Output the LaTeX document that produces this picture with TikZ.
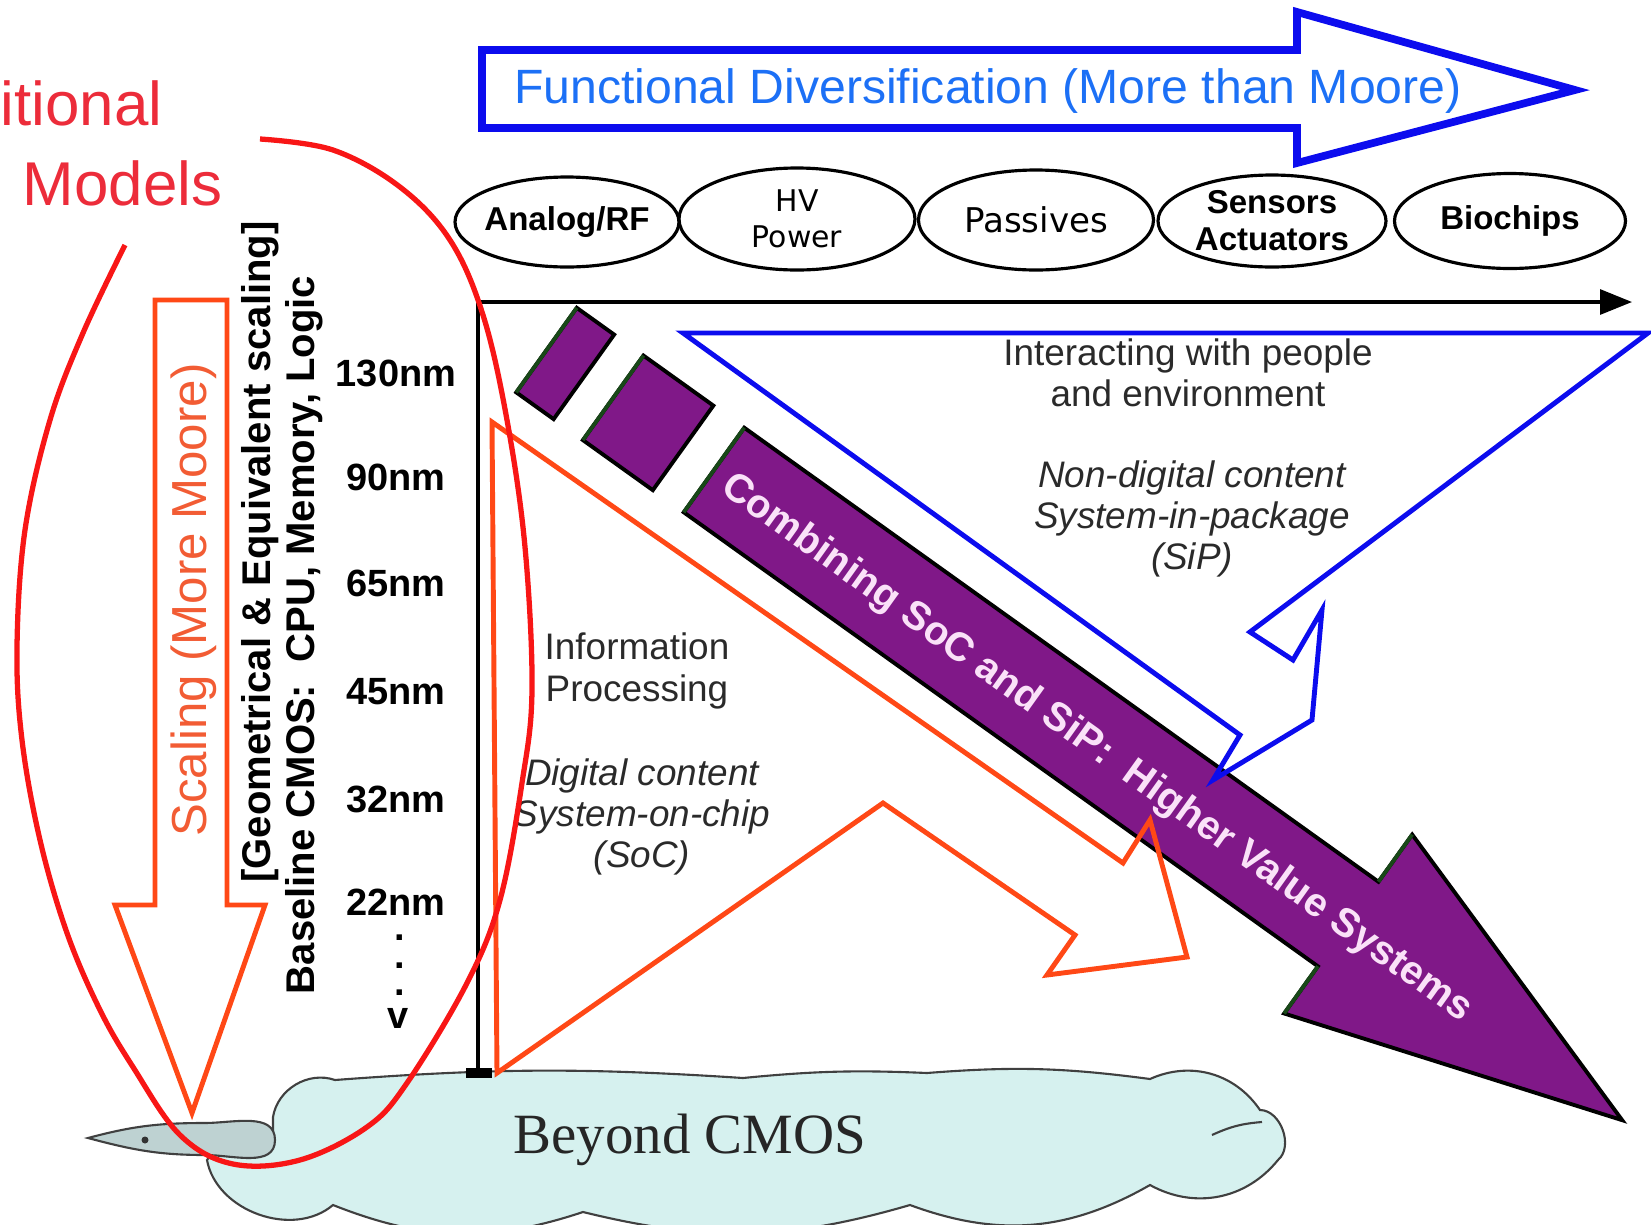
\documentclass[tikz,border=0pt]{standalone}
\usepackage{fontspec}
\setmainfont{Liberation Sans}
\newfontfamily\cloudserif{Liberation Serif}
\newfontfamily\thinsans{DejaVu Sans}
\usetikzlibrary{arrows.meta, shapes.geometric}

\definecolor{ovalred}{RGB}{248,22,22}
\definecolor{modelred}{RGB}{236,44,58}
\definecolor{socorange}{RGB}{255,72,22}
\definecolor{scaletext}{RGB}{242,92,52}
\definecolor{fdblue}{RGB}{12,12,238}
\definecolor{fdtext}{RGB}{28,112,246}
\definecolor{chippurple}{RGB}{128,24,136}
\definecolor{chipgreen}{RGB}{24,72,24}
\definecolor{soctext}{RGB}{250,225,248}
\definecolor{cloudfill}{RGB}{214,241,239}
\definecolor{fishfill}{RGB}{190,210,210}
\definecolor{txtgray}{RGB}{42,42,42}

\newcommand{\fsz}[2]{\fontsize{#1}{#2}\selectfont}

\begin{document}
\begin{tikzpicture}[
    x=0.1mm, y=-0.1mm,
    every node/.style={inner sep=0pt},
    tech/.style={draw, ellipse, line width=0.9pt, align=center},
    techbold/.style={tech, font=\fsz{9.4}{10.5}\bfseries},
    techthin/.style={tech, font=\thinsans\fsz{8.5}{10.2}},
    nmlbl/.style={font=\fsz{10.8}{12}\bfseries},
    vlbl/.style={rotate=90, font=\fsz{11.4}{13}\bfseries},
    midlbl/.style={align=center, text=txtgray, font=\fsz{10.5}{11.7}},
    midital/.style={midlbl, font=\fsz{10.5}{11.7}\itshape},
    chip/.style={fill=chippurple, draw=black, line width=1.1pt},
    chipedge/.style={draw=chipgreen, line width=1.1pt},
    socline/.style={draw=socorange, line width=1.4pt, line join=miter},
    fdline/.style={draw=fdblue, line width=1.4pt, line join=miter},
    cloudline/.style={draw=black!75, line width=0.6pt}
]
\useasboundingbox (0,0) rectangle (1651,1225);

% Beyond CMOS cloud
\draw[cloudline, fill=cloudfill] (273,1117) to[bend left=50] (335,1080)
    to[bend left=4] (743,1078) to[bend left=4] (927,1073)
    to[bend left=6] (1150,1079) to[bend left=40] (1260,1110)
    to[bend left=70] (1278,1160) to[bend left=40] (1150,1185)
    to[bend left=25] (910,1205) to[bend left=15] (583,1212)
    to[bend left=20] (333,1205) to[bend left=60] (207,1160)
    to[bend left=30] (273,1130) -- cycle;
\draw[cloudline] (1212,1135) to[bend left=10] (1262,1122);
\draw[cloudline, fill=fishfill] (88,1138) to[out=15,in=180] (205,1123)
    to[out=0,in=90] (275,1140) to[out=-90,in=0] (205,1155)
    to[out=180,in=-15] (88,1138) -- cycle;
\fill[black!80] (145,1140) circle (0.35mm);

% axes
\coordinate (orig) at (478,302);
\coordinate (xend) at (1632,302);
\coordinate (ybase) at (478,1073);
\draw[line width=0.9pt, -{Triangle[length=3.2mm,width=2.5mm]}] (orig) -- (xend);
\draw[line width=0.9pt] (orig) -- (ybase);
\fill (466,1068) rectangle (492,1078);

% combining SoC and SiP
\begin{scope}[shift={(714,470)}, rotate=-35.6]
  \filldraw[chip] (-206,-52) rectangle (-160,52);
  \filldraw[chip] (-124,-52) rectangle (-38,52);
  \filldraw[chip] (0,-52) -- (780,-52) -- (780,-110) -- (1117,0)
      -- (780,110) -- (780,52) -- (0,52) -- cycle;
  \draw[chipedge] (-206,-52) -- (-206,52) (-124,-52) -- (-124,52)
      (0,-52) -- (0,52) (780,-52) -- (780,-110) (780,52) -- (780,110);
  \node[rotate=-35.6, text=soctext, font=\fsz{11.4}{13}\bfseries] (soclbl) at (473,4)
      {Combining SoC and SiP:\ \ Higher Value Systems};
\end{scope}

% functional diversification
\draw[draw=fdblue, line width=2.2pt, line join=miter] (482,50) -- (1297,50) -- (1297,12)
    -- (1575,90) -- (1297,163) -- (1297,128) -- (482,128) -- cycle;
\node[anchor=base, text=fdtext, font=\fsz{13.7}{15}] (fdlbl) at (988,103)
    {Functional Diversification (More than Moore)};

\node[techbold, inner xsep=-1.4pt, minimum width=22.4mm, minimum height=9mm] (analog) at (567,222) {Analog/RF};
\node[techthin, minimum width=23.6mm, minimum height=10.2mm] (hvpower) at (797,219) {HV\\Power};
\node[techthin, font=\thinsans\fsz{9.7}{11}, minimum width=23.5mm, minimum height=10mm] (passives) at (1036,220) {Passives};
\node[techbold, minimum width=22.8mm, minimum height=9.2mm] (sensors) at (1272,221) {Sensors\\Actuators};
\node[techbold, minimum width=23.1mm, minimum height=9.5mm] (biochips) at (1510,221) {Biochips};

% outline arrows
\draw[fdline] (683,333) -- (1648,333) -- (1250,632) -- (1293,660) -- (1322,610)
    -- (1312,720) -- (1213,780) -- (1240,735) -- cycle;
\draw[socline] (492,422) -- (1123,863) -- (1150,820) -- (1187,957) -- (1047,975)
    -- (1075,935) -- (883,803) -- (497,1073) -- cycle;
\draw[socline] (155,300) -- (227,300) -- (227,905) -- (265,905) -- (192,1113)
    -- (115,905) -- (155,905) -- cycle;

\node[rotate=90, text=scaletext, font=\fsz{14}{16}] (scalelbl) at (194,600) {Scaling (More Moore)};
\node[vlbl] (geomlbl) at (260,552) {[Geometrical \& Equivalent scaling]};
\node[vlbl] (baselbl) at (304,635) {Baseline CMOS:\ \ CPU, Memory, Logic};

\foreach \size/\yy [count=\k] in {130nm/373, 90nm/477, 65nm/583, 45nm/692, 32nm/799, 22nm/902}
  \node[nmlbl] (gen\k) at (396,\yy) {\size};
\foreach \yy [count=\k] in {938,966,993}
  \node[nmlbl] (dot\k) at (400,\yy) {.};
\node[nmlbl] (genlast) at (398,1018) {v};

\node[midlbl] (infolbl) at (637,671) {Information\\Processing};
\node[midital] (diglbl) at (642,817) {Digital content\\System-on-chip\\(SoC)};
\node[midlbl] (interlbl) at (1188,373) {Interacting with people\\and environment};
\node[midital] (nondiglbl) at (1192,519) {Non-digital content\\System-in-package\\(SiP)};

% traditional models oval
\draw[draw=ovalred, line width=1.5pt] plot[smooth, tension=0.6] coordinates {
    (260,139) (333,150) (400,187) (450,240) (483,315) (507,420) (525,547)
    (532,690) (522,783) (500,900) (467,983) (407,1083) (367,1127) (300,1160)
    (233,1164) (180,1135) (133,1067) (100,1010) (67,933) (40,840) (22,740)
    (17,647) (25,530) (50,420) (83,333) (125,245)};
\node[anchor=base east, text=modelred, font=\fsz{17.6}{20}] (itionallbl) at (163,125) {itional};
\node[anchor=base west, text=modelred, font=\fsz{17.6}{20}] (modelslbl) at (22,205) {Models};

\node[anchor=base, text=black!85, font=\cloudserif\fsz{16.2}{18}] (cmoslbl) at (690,1153) {Beyond CMOS};
\end{tikzpicture}
\end{document}
